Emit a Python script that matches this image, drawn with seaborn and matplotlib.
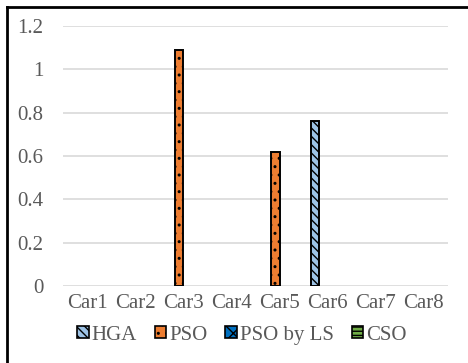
import matplotlib
matplotlib.use("Agg")
import matplotlib.pyplot as plt
import seaborn as sns
import pandas as pd
from matplotlib.patches import Rectangle
from matplotlib.lines import Line2D

cars = ["Car1", "Car2", "Car3", "Car4", "Car5", "Car6", "Car7", "Car8"]
hga = [0, 0, 0, 0, 0, 0.76, 0, 0]
pso = [0, 0, 1.09, 0, 0.62, 0, 0, 0]
pso_ls = [0, 0, 0, 0, 0, 0, 0, 0]
cso = [0, 0, 0, 0, 0, 0, 0, 0]
methods = ["HGA", "PSO", "PSO by LS", "CSO"]
yticks = [0, 0.2, 0.4, 0.6, 0.8, 1, 1.2]
ytick_labels = ["0", "0.2", "0.4", "0.6", "0.8", "1", "1.2"]

colors = ["#9DC3E6", "#ED7D31", "#0070C0", "#70AD47"]
hatches = ["\\\\\\\\", "..", "xx", "----"]

rows = []
for m, vals in zip(methods, [hga, pso, pso_ls, cso]):
    for c, v in zip(cars, vals):
        rows.append({"car": c, "method": m, "value": v})
df = pd.DataFrame(rows)

sns.set_theme(style="white")
plt.rcParams["font.family"] = ["Liberation Serif", "DejaVu Serif"]
plt.rcParams["hatch.linewidth"] = 1.0

fig = plt.figure(figsize=(4.68, 3.63), dpi=100)
ax = fig.add_axes([63 / 468, 77 / 363, 385 / 468, 260 / 363])

sns.barplot(data=df, x="car", y="value", hue="method", hue_order=methods,
            palette=colors, width=0.7, ax=ax, legend=False,
            edgecolor="black", linewidth=1.4, saturation=1)

for cont, h in zip(ax.containers, hatches):
    for bar in cont:
        bar.set_hatch(h)
        if bar.get_height() == 0:
            bar.set_visible(False)

ax.set_ylim(0, 1.2)
ax.set_yticks(yticks)
ax.set_yticklabels(ytick_labels)
ax.yaxis.grid(True, color="#D9D9D9", linewidth=1.2)
ax.set_axisbelow(True)
for s in ax.spines.values():
    s.set_visible(False)
ax.set_xlabel("")
ax.set_ylabel("")
ax.tick_params(axis="both", length=0, labelsize=15, labelcolor="#595959")
ax.tick_params(axis="y", pad=14)
ax.tick_params(axis="x", pad=6)

handles = [Rectangle((0, 0), 1, 1, facecolor=c, edgecolor="black", hatch=h, linewidth=1.2)
           for c, h in zip(colors, hatches)]
fig.legend(handles, methods, loc="center", bbox_to_anchor=(0.517, 0.077), ncol=4,
           frameon=False, fontsize=15, handlelength=0.55, handleheight=0.55,
           handletextpad=0.15, columnspacing=0.85, labelcolor="#595959")

# chart frame: left and top edges
fx = 7 / 468
fy = 1 - 7 / 363
fig.add_artist(Line2D([fx, fx], [0, fy], transform=fig.transFigure,
                      color="black", linewidth=2, solid_capstyle="projecting"))
fig.add_artist(Line2D([fx, 1], [fy, fy], transform=fig.transFigure,
                      color="black", linewidth=2, solid_capstyle="projecting"))

fig.savefig("out.png", dpi=100)
